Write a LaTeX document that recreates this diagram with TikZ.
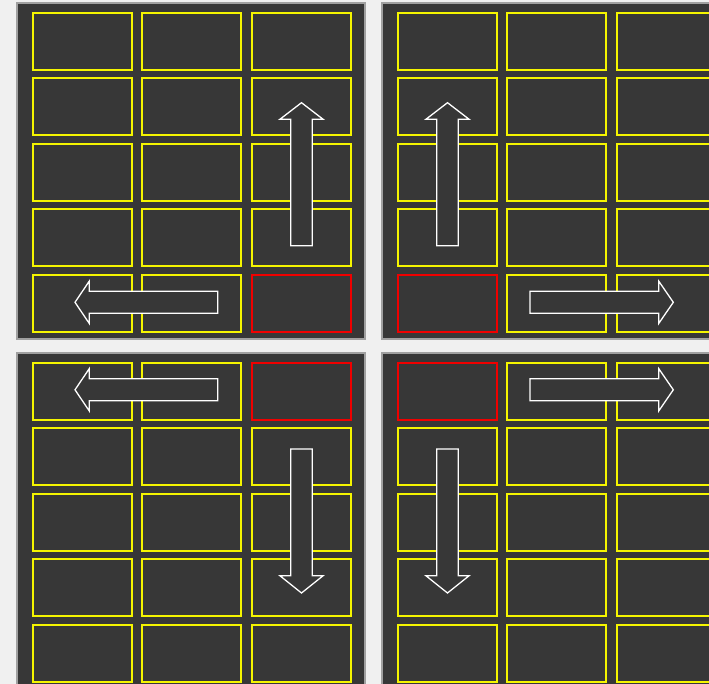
\documentclass[tikz,border=0pt]{standalone}
\usepackage{xcolor}
\definecolor{bg}{HTML}{F0F0F0}
\definecolor{panelfill}{HTML}{373737}
\definecolor{panelborder}{HTML}{A0A0A0}
\definecolor{cellyellow}{HTML}{F5F500}
\definecolor{cellred}{HTML}{F00000}
\tikzset{
  panel/.style={fill=panelfill,draw=panelborder,line width=1.5pt},
  cell/.style={draw=cellyellow,line width=1.8pt,minimum width=99pt,minimum height=57pt,
    inner sep=0pt,outer sep=0pt,anchor=north west},
  movearrow/.style={draw=white,fill=panelfill,line width=1.3pt,line join=miter},
  arrowup/.pic={\draw[movearrow] (-10.8,0) -- (-10.8,-126.4) -- (-21.6,-126.4) -- (0,-143) -- (21.6,-126.4) -- (10.8,-126.4) -- (10.8,0) -- cycle;},
  arrowdown/.pic={\draw[movearrow] (-10.8,0) -- (-10.8,126.7) -- (-21.6,126.7) -- (0,144) -- (21.6,126.7) -- (10.8,126.7) -- (10.8,0) -- cycle;},
  arrowleft/.pic={\draw[movearrow] (0,-11) -- (-128.4,-11) -- (-128.4,-21.2) -- (-142.7,0) -- (-128.4,21.2) -- (-128.4,11) -- (0,11) -- cycle;},
  arrowright/.pic={\draw[movearrow] (0,-11) -- (128.7,-11) -- (128.7,-21.2) -- (143.3,0) -- (128.7,21.2) -- (128.7,11) -- (0,11) -- cycle;}
}
\begin{document}
\begin{tikzpicture}[x=1pt,y=-1pt]
\useasboundingbox (0,0) rectangle (709,684);
\fill[bg] (0,0) rectangle (709,684);
\begin{scope}
\clip (0,0) rectangle (709,684);
\foreach \ox/\oy/\n/\rr/\rc in {0/0/a/4/2, 365/0/b/4/0, 0/350/c/0/2, 365/350/d/0/0} {
  \draw[panel] (17+\ox,3+\oy) rectangle (365+\ox,339+\oy);
  \foreach \r in {0,...,4} {
    \foreach \c/\cx in {0/33,1/142,2/252} {
      \def\cc{cellyellow}
      \ifnum\r=\rr \ifnum\c=\rc \def\cc{cellred}\fi\fi
      \node[cell,draw=\cc] (\n-\r-\c) at ({\cx+\ox},{12.7+\oy+65.5*\r}) {};
    }
  }
}
\pic at (301.5,245.7) {arrowup};
\pic at (447.5,245.7) {arrowup};
\pic at (217.7,302.3) {arrowleft};
\pic at (530,302.3) {arrowright};
\pic at (217.7,389.8) {arrowleft};
\pic at (530,389.8) {arrowright};
\pic at (301.5,449) {arrowdown};
\pic at (447.5,449) {arrowdown};
\end{scope}
\end{tikzpicture}
\end{document}
